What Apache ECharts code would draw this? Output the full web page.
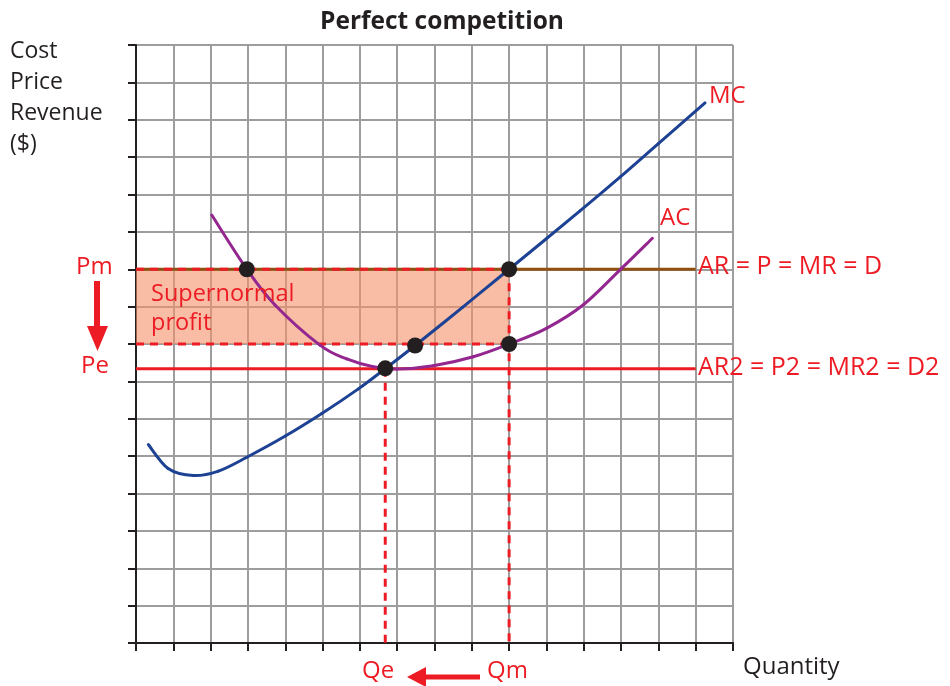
<!DOCTYPE html>
<html>
<head>
<meta charset="utf-8">
<script src="https://cdn.jsdelivr.net/npm/echarts@6/dist/echarts.min.js"></script>
<style>html,body{margin:0;padding:0;background:#fff;}#c{width:950px;height:686px;}</style>
</head>
<body>
<div id="c"></div>
<script>
// ---- data ----
var mcCurve = [[0.33,5.31],[0.86,4.67],[1.54,4.48],[2.21,4.6],[2.97,4.97],[3.99,5.53],[4.98,6.14],[5.96,6.8],[6.68,7.34],[7.48,7.96],[8.75,8.98],[10,10],[11.9,11.56],[12.98,12.47],[14.0,13.36],[15.25,14.45]];
var acCurve = [[2.03,11.45],[2.97,10.0],[3.72,9.05],[4.93,7.97],[5.65,7.6],[6.36,7.39],[6.99,7.33],[7.97,7.42],[9.04,7.66],[10.0,8.0],[11.0,8.42],[11.99,9.05],[13.02,10.03],[13.84,10.83]];
var pm = 10, pe = 7.34, qm = 10, qe = 6.68;
var arEnd = 15;
var dots = [[2.97,10],[10,10],[10,8],[7.48,7.96],[6.68,7.35]];
var profitBox = [[0,8],[10,10]];
var axisMax = 16;

var RED = '#ed1c24', FONT = '"Open Sans", "Noto Sans", sans-serif';
var chart = echarts.init(document.getElementById('c'));
var gridL = 136, gridT = 45, gridR = 950-733, gridB = 686-643;

function dashLine(data){
  return {type:'line', data:data, symbol:'none', silent:true, z:3,
    lineStyle:{color:RED, width:3, type:[8,6]}};
}
function txt(t, x, y, size, color, extra){
  var s = {text:t, font:size+'px '+FONT, fill:color};
  if (extra) for (var k in extra) s[k] = extra[k];
  return {type:'text', left:x, top:y, z:10, style:s};
}
// smooth curve through data points (Catmull-Rom), positioned by the axes
function curveSeries(pts, color){
  return {type:'custom', data:pts, z:5, silent:true,
    encode:{x:0, y:1},
    renderItem:function(params, api){
      var i = params.dataIndex, n = pts.length;
      if (i >= n-1) return null;
      var p0 = api.coord(pts[Math.max(i-1,0)]), p1 = api.coord(pts[i]),
          p2 = api.coord(pts[i+1]), p3 = api.coord(pts[Math.min(i+2,n-1)]);
      return {type:'bezierCurve',
        shape:{x1:p1[0], y1:p1[1], x2:p2[0], y2:p2[1],
          cpx1:p1[0]+(p2[0]-p0[0])/6, cpy1:p1[1]+(p2[1]-p0[1])/6,
          cpx2:p2[0]-(p3[0]-p1[0])/6, cpy2:p2[1]-(p3[1]-p1[1])/6},
        style:{stroke:color, lineWidth:3, fill:null, lineCap:'round'}};
    }};
}
var option = {
  animation:false,
  backgroundColor:'#fff',
  title:{text:'Perfect competition', left:437, top:5, textAlign:'center',
    textStyle:{fontFamily:FONT, fontWeight:'bold', fontSize:24.5, color:'#231f20'}},
  grid:{left:gridL, top:gridT, right:gridR, bottom:gridB},
  xAxis:{type:'value', min:0, max:axisMax, interval:1,
    axisLine:{lineStyle:{color:'#231f20', width:2}},
    axisTick:{show:true, inside:false, length:8, lineStyle:{color:'#231f20', width:2}},
    axisLabel:{show:false},
    splitLine:{show:true, lineStyle:{color:'#9d9d9d', width:2}}},
  yAxis:{type:'value', min:0, max:axisMax, interval:1,
    axisLine:{show:true, lineStyle:{color:'#231f20', width:2}},
    axisTick:{show:true, inside:false, length:8, lineStyle:{color:'#231f20', width:2}},
    axisLabel:{show:false},
    splitLine:{show:true, lineStyle:{color:'#9d9d9d', width:2}}},
  series:[
    {type:'line', data:[], markArea:{silent:true, itemStyle:{color:'rgba(245,145,105,0.6)'},
      data:[[{coord:profitBox[0]},{coord:profitBox[1]}]]}},
    {type:'line', data:[[0,pm],[arEnd,pm]], symbol:'none', z:2, lineStyle:{color:'#8f5010', width:3}},
    dashLine([[0,pm],[qm,pm]]),
    dashLine([[0,profitBox[0][1]],[qm,profitBox[0][1]]]),
    dashLine([[qm,pm],[qm,0]]),
    dashLine([[qe,pe],[qe,0]]),
    {type:'line', data:[[0,pe],[arEnd,pe]], symbol:'none', z:4, lineStyle:{color:RED, width:3}},
    curveSeries(mcCurve, '#1d4193'),
    curveSeries(acCurve, '#93278f'),
    {type:'scatter', data:dots, symbolSize:16, z:6, itemStyle:{color:'#231f20', opacity:1}}
  ],
  graphic:[
    txt('Cost\nPrice\nRevenue\n($)', 10, 36, 23, '#231f20', {lineHeight:31}),
    txt('Quantity', 743, 655, 24, '#231f20'),
    txt('MC', 709, 84, 24, RED),
    txt('AC', 660, 206, 24, RED),
    txt('AR = P = MR = D', 698, 254, 25, RED),
    txt('AR2 = P2 = MR2 = D2', 698, 355, 25, RED),
    txt('Supernormal\nprofit', 151, 280, 23.5, RED, {lineHeight:29}),
    txt('Pm', 76, 255, 24, RED),
    txt('Pe', 81, 354, 24, RED),
    txt('Qe', 362, 659, 24, RED),
    txt('Qm', 487, 659, 24, RED),
    {type:'line', shape:{x1:97, y1:281, x2:97, y2:328}, style:{stroke:RED, lineWidth:6}},
    {type:'polygon', shape:{points:[[87,326],[108,326],[97.5,351]]}, style:{fill:RED}},
    {type:'line', shape:{x1:480, y1:677, x2:424, y2:677}, style:{stroke:RED, lineWidth:5}},
    {type:'polygon', shape:{points:[[426,667],[426,687],[407,677]]}, style:{fill:RED}}
  ]
};
chart.setOption(option);
</script>
</body>
</html>
